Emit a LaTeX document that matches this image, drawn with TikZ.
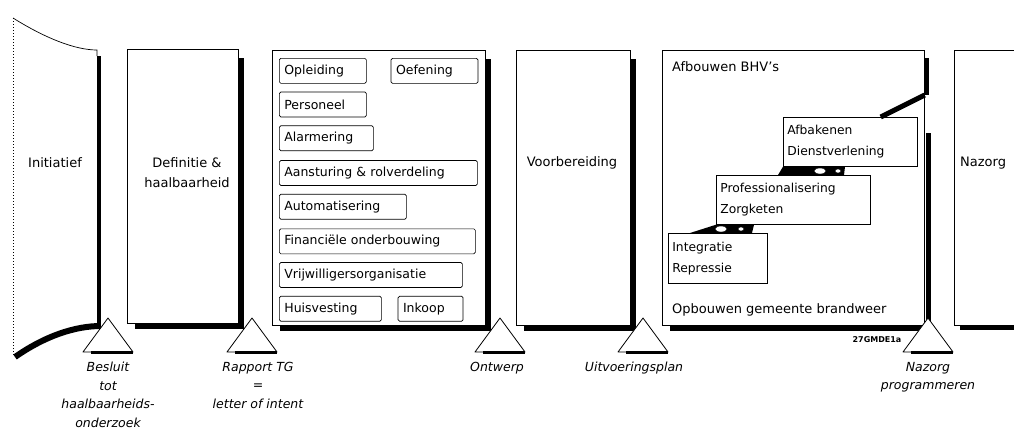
\documentclass[tikz,border=0pt]{standalone}
\usepackage{fontspec}
\setmainfont{DejaVu Sans}
\usetikzlibrary{positioning,calc}

\newcommand{\boxfont}{\fontsize{13}{20}\selectfont}
\newcommand{\taskfont}{\fontsize{12.5}{15}\selectfont}
\newcommand{\stairfont}{\fontsize{12.3}{21}\selectfont}
\newcommand{\labelfont}{\itshape\fontsize{12.5}{18.5}\selectfont}

\tikzset{
  phase/.style={draw, line width=0.7pt, anchor=north west, inner sep=0pt},
  shadow/.style={line width=4.5pt},
  task/.style={draw, line width=0.7pt, rounded corners=1.5pt, anchor=north west,
    minimum height=25pt, inner xsep=5pt, inner ysep=0pt, align=left,
    text width=#1, font=\taskfont},
  stair/.style={draw, line width=0.7pt, fill=white, anchor=north west,
    inner xsep=4pt, inner ysep=0pt, align=left, text width=#1, font=\stairfont},
  hinge/.style={fill=black},
  knob/.style={fill=white, draw=black, line width=0.4pt},
  milestone/.style={draw, line width=0.8pt, fill=white, line join=round},
  mlabel/.style={anchor=north, align=center, font=\labelfont, inner sep=0pt},
  plain/.style={font=\boxfont, align=center, inner sep=0pt}
}

\begin{document}
\begin{tikzpicture}[x=1pt, y=-1pt]
\useasboundingbox (0,0) rectangle (1014,429);

% initiatief
\draw[dotted, line width=1pt] (13,18) -- (13,356);
\draw[line width=0.7pt] (13,18) .. controls (45,38) and (75,50) .. (97,50) -- (97,56);
\draw[shadow] (99,56) -- (99,326);
\draw[line width=6pt] (15,357) .. controls (45,336) and (75,326) .. (101,326);
\node[plain] (init) at (55,163) {Initiatief};

% phase columns
\node[phase, minimum width=111pt, minimum height=274pt] (def) at (127,49) {};
\node[phase, minimum width=213pt, minimum height=275pt] (design) at (272,50) {};
\node[phase, minimum width=114pt, minimum height=275pt] (prep) at (516,50) {};
\node[phase, minimum width=262pt, minimum height=275pt] (impl) at (662,50) {};
\draw[line width=0.7pt] (1020,50) -| (954,325) coordinate (after) -- (1020,325);

\foreach \n in {def,design,prep}
  \draw[shadow] ($(\n.north east)+(3,9)$) -- ($(\n.south east)+(3,3)$) -- ($(\n.south west)+(8,3)$);
\draw[shadow] ($(impl.north east)+(2,8)$) -- ($(impl.north east)+(2,45)$);
\draw[shadow] ($(impl.north east)+(4,83)$) -- ($(impl.south east)+(4,3)$) -- ($(impl.south west)+(8,3)$);
\draw[shadow] ($(after)+(6,3)$) -- (1020,328);

\node[plain] (deflbl) at (187,173) {Definitie \&\\haalbaarheid};
\node[plain] (preplbl) at (572,163) {Voorbereiding};
\node[plain, anchor=west] (afterlbl) at (960,163) {Nazorg};

% ontwerp tasks
\node[task=77pt] (opl) at (279,58) {Opleiding};
\node[task=77pt, right=24pt of opl] (oef) {Oefening};
\node[task=77pt, below=8pt of opl.south west, anchor=north west] (pers) {Personeel};
\node[task=84pt, below=8pt of pers.south west, anchor=north west] (alarm) {Alarmering};
\node[task=188pt, below=9pt of alarm.south west, anchor=north west] (aanst) {Aansturing \& rolverdeling};
\node[task=117pt, below=8pt of aanst.south west, anchor=north west] (auto) {Automatisering};
\node[task=186pt, below=9pt of auto.south west, anchor=north west] (fin) {Financiële onderbouwing};
\node[task=173pt, below=8pt of fin.south west, anchor=north west] (vrij) {Vrijwilligersorganisatie};
\node[task=92pt, below=8pt of vrij.south west, anchor=north west] (huis) {Huisvesting};
\node[task=55pt, right=16pt of huis] (inkoop) {Inkoop};

% uitvoering: stairs
\node[plain, anchor=west] (afbouw) at (672,67) {Afbouwen BHV's};
\node[plain, anchor=west] (opbouw) at (672,310) {Opbouwen gemeente brandweer};
\node[stair=91pt, minimum height=50pt] (integ) at (668,233) {Integratie\\Repressie};
\node[stair=146pt, minimum height=49pt] (prof) at (716,175) {Professionalisering\\Zorgketen};
\node[stair=126pt, minimum height=49pt] (afbak) at (783,117) {Afbakenen\\Dienstverlening};

\fill[hinge] ($(integ.north west)+(22,0)$) -- (prof.south west)
  -- ($(prof.south west)+(38,0)$) -- ($(integ.north west)+(84,0)$) -- cycle;
\draw[knob] ($(integ.north west)+(53,-4)$) ellipse (6 and 3);
\draw[knob] ($(integ.north west)+(73,-4)$) ellipse (3 and 2);
\fill[hinge] ($(prof.north west)+(62,0)$) -- (afbak.south west)
  -- ($(afbak.south west)+(62,0)$) -- ($(prof.north west)+(128,0)$) -- cycle;
\draw[knob] ($(prof.north west)+(104,-4)$) ellipse (6 and 3);
\draw[knob] ($(prof.north west)+(122,-4)$) ellipse (3 and 2);
\draw[line width=5pt] ($(afbak.north east)+(-37,0)$) -- ($(impl.north east)+(0,45)$);

% milestones
\foreach \x/\n in {108/m1, 252/m2, 500/m3, 643/m4, 928/m5} {
  \draw[milestone] (\x-25,352) -- (\x,318) -- (\x+25,352) -- cycle;
  \draw[line width=3.5pt] (\x-17,352.5) -- (\x+25,352.5);
  \coordinate (\n) at (\x,362);
}
\node[mlabel] (b1) at ([xshift=0pt]m1) {Besluit\\tot\\haalbaarheids-\\onderzoek};
\node[mlabel] (b2) at ([xshift=6pt]m2) {Rapport TG\\=\\letter of intent};
\node[mlabel] (b3) at ([xshift=-3pt]m3) {Ontwerp};
\node[mlabel] (b4) at ([xshift=-9pt]m4) {Uitvoeringsplan};
\node[mlabel] (b5) at (m5) {Nazorg\\programmeren};
\node[font=\bfseries\fontsize{8}{9}\selectfont, inner sep=0pt] (code) at (877,340) {27GMDE1a};
\end{tikzpicture}
\end{document}
